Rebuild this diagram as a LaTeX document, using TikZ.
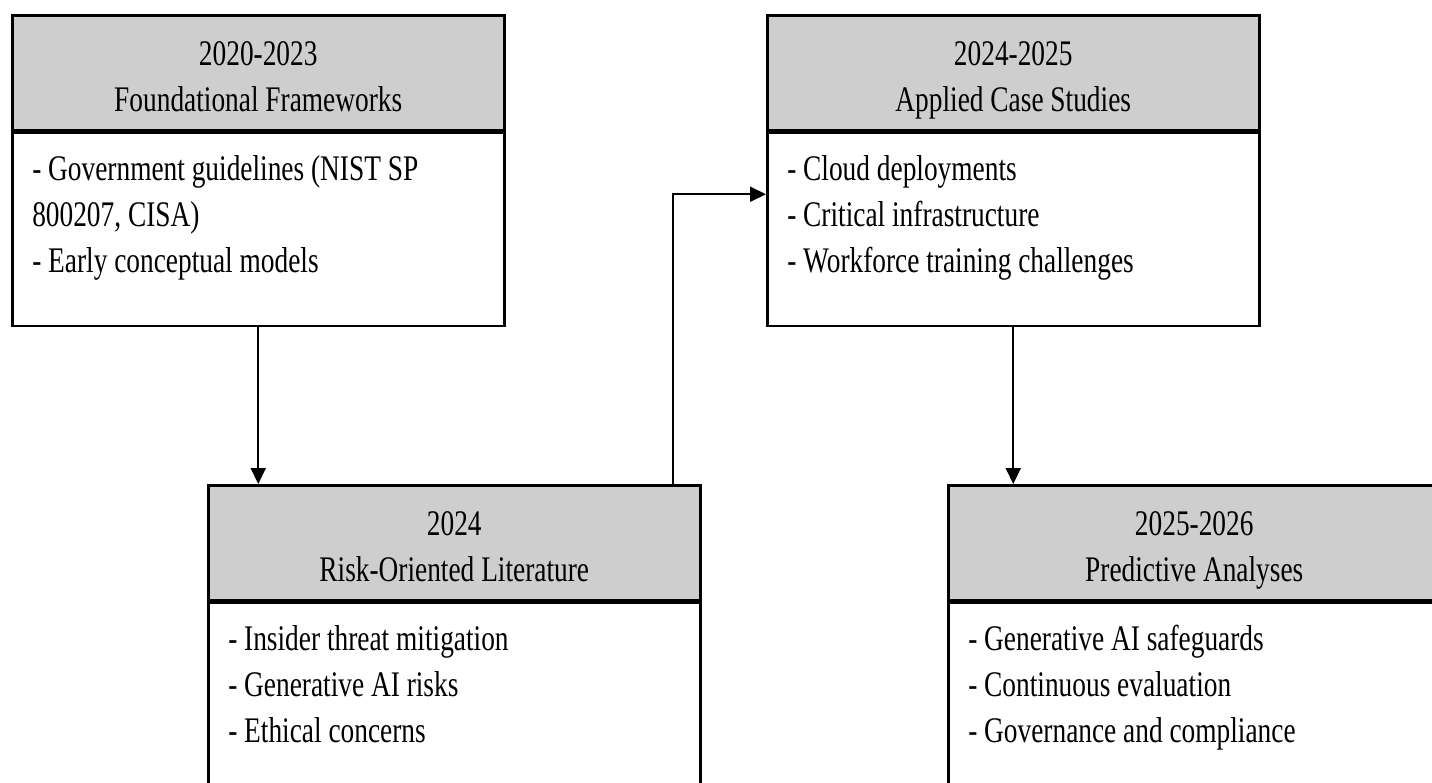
\documentclass[tikz,border=0pt]{standalone}
\usepackage{fontspec}
\setmainfont{Liberation Serif}[FakeStretch=0.76]
\usetikzlibrary{arrows.meta,positioning}
\definecolor{headgray}{RGB}{207,206,207}
\tikzset{
  head/.style={draw, line width=2.5pt, fill=headgray, anchor=north west,
    text width=492pt, inner sep=0pt, align=flush center,
    text height=50pt, text depth=65pt, font=\fontsize{36}{46}\selectfont},
  body/.style={draw, line width=2.5pt, fill=white, text width=452pt,
    inner xsep=20pt, inner ysep=0pt, align=flush left,
    text height=48pt, text depth=145pt, font=\fontsize{36}{46}\selectfont},
  flow/.style={line width=2pt, -{Triangle[length=16pt,width=15pt]}}
}

\begin{document}
\begin{tikzpicture}[x=1pt,y=1pt]
	%%%%% START %%%%%
	\clip (0,0) rectangle (1432,-782);
	\fill[white] (0,0) rectangle (1432,-782);
	
	\node[head] (h1) at (11,-14) {2020-2023\\Foundational Frameworks};
	\node[body, below=0pt of h1] (b1) {- Government guidelines (NIST SP\\800207, CISA)\\- Early conceptual models};
	
	\node[head] (h2) at (766,-14) {2024-2025\\Applied Case Studies};
	\node[body, below=0pt of h2] (b2) {- Cloud deployments\\- Critical infrastructure\\- Workforce training challenges};
	
	\node[head] (h3) at (207,-484) {2024\\Risk-Oriented Literature};
	\node[body, below=0pt of h3] (b3) {- Insider threat mitigation\\- Generative AI risks\\- Ethical concerns};
	
	\node[head] (h4) at (947,-484) {2025-2026\\Predictive Analyses};
	\node[body, below=0pt of h4] (b4) {- Generative AI safeguards\\- Continuous evaluation\\- Governance and compliance};
	
	\draw[flow] (b1.south) -- (b1.south |- h3.north);
	\draw[flow] ([xshift=-29pt]h3.north east) |- ([yshift=35pt]b2.west);
	\draw[flow] (b2.south) -- (b2.south |- h4.north);
	%%%%% END %%%%%
\end{tikzpicture}
\end{document}
